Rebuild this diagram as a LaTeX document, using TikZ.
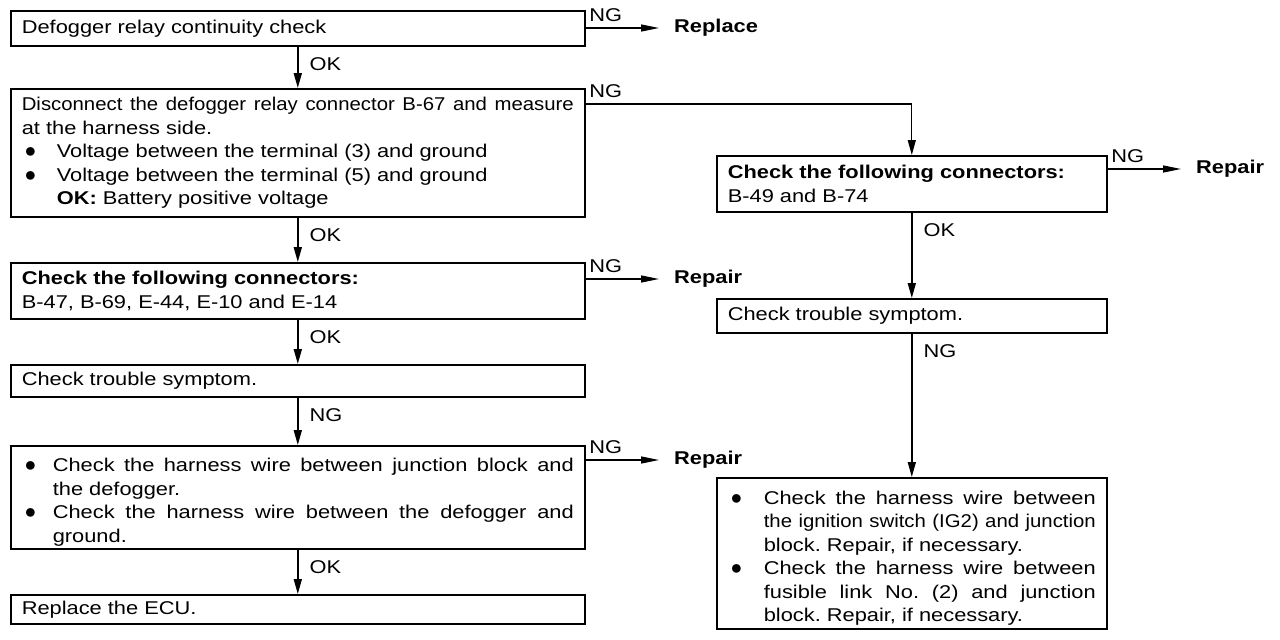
\documentclass[tikz,border=0pt]{standalone}
\usepackage{fontspec}
\setmainfont{Liberation Sans}[FakeStretch=1.18]
\newfontfamily\narrowfont{Liberation Sans}[FakeStretch=1.1]
\usepackage{graphicx}
\usepackage{tikz}
\usetikzlibrary{arrows.meta, positioning}
\newcommand{\bitem}[1]{\par\hangindent=#1\hangafter=1\noindent\makebox[#1][l]{\hspace{3pt}\smash{\scalebox{1.3}{$\bullet$}}}}

\begin{document}
\begin{tikzpicture}[x=1pt, y=-1pt,
	box/.style={draw, line width=1.6pt, anchor=north west, inner xsep=11pt, inner ysep=2pt, align=justify, font=\fontsize{18.5}{23.5}\selectfont\hyphenpenalty10000\frenchspacing},
	lbl/.style={inner sep=1pt, font=\fontsize{18.5}{22}\selectfont},
	res/.style={anchor=west, inner sep=1pt, text height=9pt, text depth=0pt, font=\fontsize{18.5}{22}\selectfont\bfseries},
	down/.style={line width=1.6pt, -{Triangle[length=15pt,width=8pt]}},
	side/.style={line width=1.3pt, shorten >=14pt, -{Triangle[length=18pt,width=7pt]}}]
		\fill[white] (0,0) rectangle (1280,640);
		\draw (10,10) node[box, text width=552pt, minimum height=35pt] (s1) {Defogger relay continuity check}
		(10,88) node[box, text width=552pt, minimum height=128pt] (s2) {{\narrowfont Disconnect the defogger relay connector B-67 and measure}\linebreak at the harness side.\bitem{35pt}Voltage between the terminal (3) and ground\bitem{35pt}Voltage between the terminal (5) and ground\\ \textbf{OK:} Battery positive voltage\par}
		(10,262) node[box, text width=552pt, minimum height=56pt] (s3) {\textbf{Check the following connectors:}\\ B-47, B-69, E-44, E-10 and E-14}
		(10,364) node[box, text width=552pt, minimum height=32pt] (s4) {Check trouble symptom.}
		(10,445) node[box, text width=552pt, minimum height=103pt] (s5) {\bitem{31pt}Check the harness wire between junction block and\linebreak the defogger.\bitem{31pt}Check the harness wire between the defogger and\linebreak ground.\par}
		(10,594) node[box, text width=552pt, minimum height=29pt] (s6) {Replace the ECU.}
		(716,155) node[box, text width=368pt, minimum height=56pt] (rs1) {\textbf{Check the following connectors:}\\ B-49 and B-74}
		(716,298) node[box, text width=368pt, minimum height=34pt] (rs2) {Check trouble symptom.}
		(716,477) node[box, text width=368pt, minimum height=151pt] (rs3) {\bitem{36pt}Check the harness wire between\linebreak {\narrowfont the ignition switch (IG2) and junction}\linebreak block. Repair, if necessary.\bitem{36pt}Check the harness wire between\linebreak fusible link No. (2) and junction\linebreak block. Repair, if necessary.\par}
		(673,28) node[res] (rep1) {Replace}
		(673,279) node[res] (rep2) {Repair}
		(673,460) node[res] (rep3) {Repair}
		(1195,169) node[res] (rep4) {Repair};

		\draw[down] (s1) -- node[lbl, pos=0, anchor=north west, xshift=10pt, yshift=-9pt] (ok1) {OK} (s2);
		\draw[down] (s2) -- node[lbl, pos=0, anchor=north west, xshift=10pt, yshift=-9pt] (ok2) {OK} (s3);
		\draw[down] (s3) -- node[lbl, pos=0, anchor=north west, xshift=10pt, yshift=-9pt] (ok3) {OK} (s4);
		\draw[down] (s4) -- node[lbl, pos=0, anchor=north west, xshift=10pt, yshift=-9pt] (ng4) {NG} (s5);
		\draw[down] (s5) -- node[lbl, pos=0, anchor=north west, xshift=10pt, yshift=-9pt] (ok5) {OK} (s6);
		\draw[down] (rs1) -- node[lbl, pos=0, anchor=north west, xshift=10pt, yshift=-9pt] (ok6) {OK} (rs2);
		\draw[down] (rs2) -- node[lbl, pos=0, anchor=north west, xshift=10pt, yshift=-9pt] (ng6) {NG} (rs3);
		\draw[down, line width=1.3pt] ([yshift=-16pt]s2.north east) -| node[lbl, pos=0, anchor=south west, xshift=2pt, yshift=5pt] (ng2) {NG} (rs1);
		\draw[side] (s1.east |- rep1) -- node[lbl, pos=0, anchor=south west, xshift=2pt, yshift=5pt] (ng1) {NG} (rep1);
		\draw[side] (s3.east |- rep2) -- node[lbl, pos=0, anchor=south west, xshift=2pt, yshift=5pt] (ng3) {NG} (rep2);
		\draw[side] (s5.east |- rep3) -- node[lbl, pos=0, anchor=south west, xshift=2pt, yshift=5pt] (ng5) {NG} (rep3);
		\draw[side] (rs1.east |- rep4) -- node[lbl, pos=0, anchor=south west, xshift=2pt, yshift=5pt] (ng7) {NG} (rep4);
	\end{tikzpicture}
\end{document}
